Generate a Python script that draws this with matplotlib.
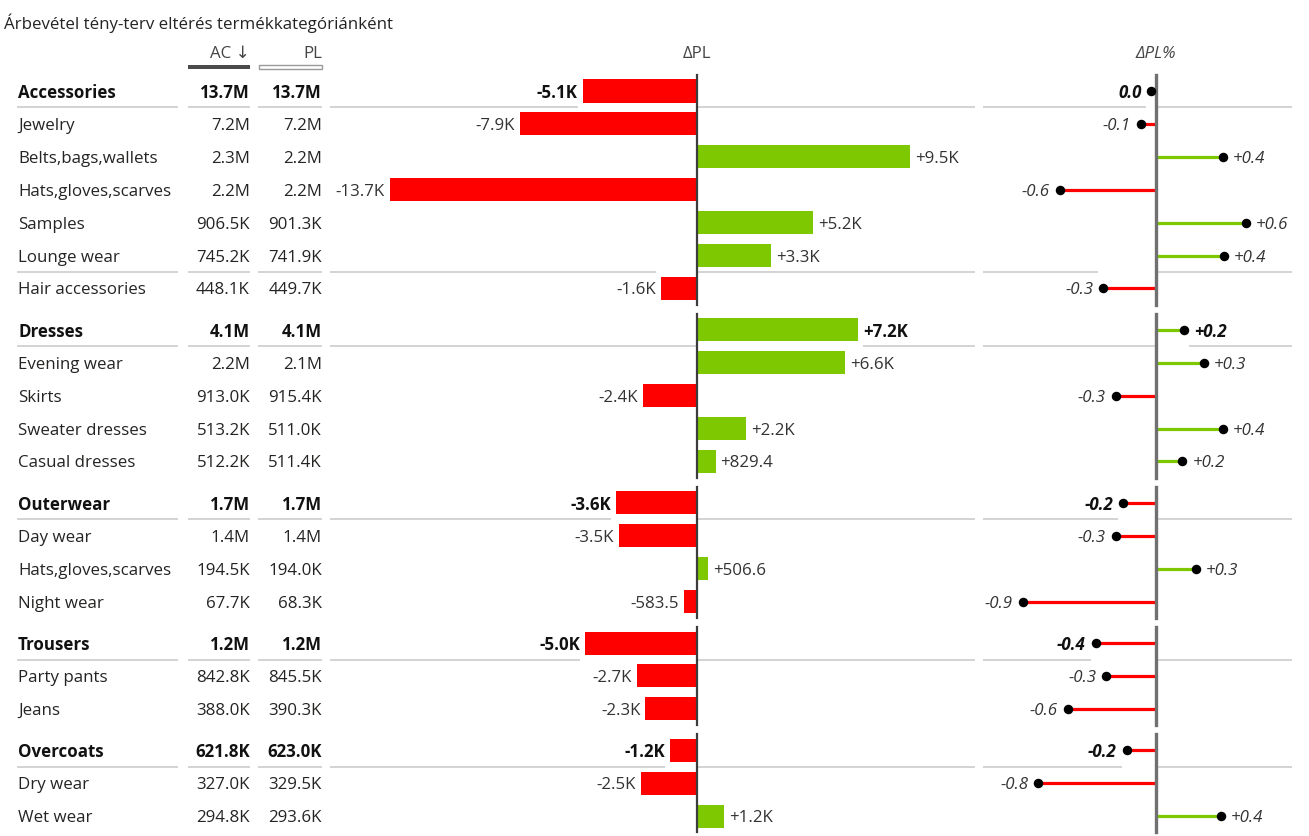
import matplotlib
matplotlib.use("Agg")
import matplotlib.pyplot as plt
from matplotlib.patches import Rectangle
from matplotlib import font_manager

# ---------------- data ----------------
title = "Árbevétel tény-terv eltérés termékkategóriánként"
col_headers = ["AC \u2193", "PL", "\u0394PL", "\u0394PL%"]

categories = ["Accessories", "Jewelry", "Belts,bags,wallets", "Hats,gloves,scarves",
              "Samples", "Lounge wear", "Hair accessories",
              "Dresses", "Evening wear", "Skirts", "Sweater dresses", "Casual dresses",
              "Outerwear", "Day wear", "Hats,gloves,scarves", "Night wear",
              "Trousers", "Party pants", "Jeans",
              "Overcoats", "Dry wear", "Wet wear"]
group_of_row = [0] * 7 + [1] * 5 + [2] * 4 + [3] * 3 + [4] * 3
is_total = [True, False, False, False, False, False, False,
            True, False, False, False, False,
            True, False, False, False,
            True, False, False,
            True, False, False]

ac_values = [13.7e6, 7.2e6, 2.3e6, 2.2e6, 906.5e3, 745.2e3, 448.1e3,
             4.1e6, 2.2e6, 913.0e3, 513.2e3, 512.2e3,
             1.7e6, 1.4e6, 194.5e3, 67.7e3,
             1.2e6, 842.8e3, 388.0e3,
             621.8e3, 327.0e3, 294.8e3]
pl_values = [13.7e6, 7.2e6, 2.2e6, 2.2e6, 901.3e3, 741.9e3, 449.7e3,
             4.1e6, 2.1e6, 915.4e3, 511.0e3, 511.4e3,
             1.7e6, 1.4e6, 194.0e3, 68.3e3,
             1.2e6, 845.5e3, 390.3e3,
             623.0e3, 329.5e3, 293.6e3]
delta_pl = [-5100, -7900, 9500, -13700, 5200, 3300, -1600,
            7200, 6600, -2400, 2200, 829.4,
            -3600, -3500, 506.6, -583.5,
            -5000, -2700, -2300,
            -1200, -2500, 1200]
delta_pl_pct = [-0.03, -0.10, 0.43, -0.62, 0.58, 0.44, -0.34,
                0.18, 0.31, -0.26, 0.43, 0.17,
                -0.21, -0.26, 0.26, -0.86,
                -0.39, -0.32, -0.57,
                -0.19, -0.76, 0.42]

# separators: (row above, row below, row whose mark interrupts the line)
separators = [(0, 1, 0), (5, 6, 6), (7, 8, 7), (12, 13, 12), (16, 17, 16), (19, 20, 19)]

# ---------------- style / layout ----------------
W, H = 1309, 836
ROW0_PX, ROW_PX, GROUP_GAP = 91.0, 32.9, 0.26
RED, GREEN = "#FF0000", "#7DC800"
TXT, SEP = "#252423", "#C8C8C8"
installed = {f.name for f in font_manager.fontManager.ttflist}
MAIN = "Open Sans" if "Open Sans" in installed else "Noto Sans"
FONT = [MAIN, "DejaVu Sans"]
FS = 12.2
plt.rcParams["font.family"] = FONT

DPL_X0, DPL_X1, DPL_ZERO, DPL_SCALE = 330, 975, 697, 0.0224   # px per unit
PCT_X0, PCT_X1, PCT_ZERO, PCT_SCALE = 983, 1292, 1156, 155.0   # px per percent-point

ys = [i + GROUP_GAP * g for i, g in enumerate(group_of_row)]


def fmt_amount(v):
    return f"{v / 1e6:.1f}M" if v >= 1e6 else f"{v / 1e3:.1f}K"


def fmt_delta(v):
    return f"{v / 1e3:+.1f}K" if abs(v) >= 1000 else f"{v:+.1f}"


def fmt_pct(v):
    s = f"{v:+.1f}"
    return "0.0" if s in ("+0.0", "-0.0") else s


fig = plt.figure(figsize=(W / 100, H / 100), dpi=100)
y_top = -ROW0_PX / ROW_PX
y_bot = (H - ROW0_PX) / ROW_PX


def px_axes(x0, x1):
    ax = fig.add_axes([x0 / W, 0, (x1 - x0) / W, 1])
    ax.set_ylim(y_bot, y_top)
    ax.axis("off")
    return ax


base = px_axes(0, W)
base.set_xlim(0, W)


def py(px):
    return (px - ROW0_PX) / ROW_PX


# title and column headers
base.text(4, py(21), title, fontsize=FS, color=TXT, va="center_baseline", ha="left")
base.text(250, py(52), col_headers[0], fontsize=FS, color="#444444", ha="right", va="center_baseline")
base.text(322, py(52), col_headers[1], fontsize=FS, color="#444444", ha="right", va="center_baseline")
base.add_patch(Rectangle((188, py(65)), 62, 4 / ROW_PX, facecolor="#4a4a4a", edgecolor="none"))
base.add_patch(Rectangle((258.5, py(65)), 63, 3.5 / ROW_PX, facecolor="white", edgecolor="#9a9a9a", lw=1))

# table text
for i, name in enumerate(categories):
    w = "bold" if is_total[i] else "normal"
    col = "#111111" if is_total[i] else TXT
    base.text(18, ys[i], name, fontsize=FS, fontweight=w, color=col, ha="left", va="center_baseline")
    base.text(250, ys[i], fmt_amount(ac_values[i]), fontsize=FS, fontweight=w, color=col,
              ha="right", va="center_baseline")
    base.text(322, ys[i], fmt_amount(pl_values[i]), fontsize=FS, fontweight=w, color=col,
              ha="right", va="center_baseline")

for a, b, _ in separators:
    ysep = (ys[a] + ys[b]) / 2
    for x0, x1 in [(17, 178), (188, 250), (258, 322)]:
        base.plot([x0, x1], [ysep, ysep], color=SEP, lw=1.1, solid_capstyle="butt")

# ---------------- ΔPL bars ----------------
ax1 = px_axes(DPL_X0, DPL_X1)
ax1.set_xlim((DPL_X0 - DPL_ZERO) / DPL_SCALE, (DPL_X1 - DPL_ZERO) / DPL_SCALE)
ax1.text(0, py(52), col_headers[2], fontsize=FS, color="#444444", ha="center", va="center_baseline")
colors = [GREEN if v > 0 else RED for v in delta_pl]
ax1.barh(ys, delta_pl, height=0.7, color=colors, zorder=2)
pad1 = 5 / DPL_SCALE
lo1, hi1 = ax1.get_xlim()
for a, b, o in separators:
    ysep = (ys[a] + ys[b]) / 2
    v = delta_pl[o]
    g0, g1 = (v - pad1, 0) if v < 0 else (0, v + pad1)
    ax1.plot([lo1, g0], [ysep, ysep], color=SEP, lw=1.1, solid_capstyle="butt", zorder=1)
    ax1.plot([g1, hi1], [ysep, ysep], color=SEP, lw=1.1, solid_capstyle="butt", zorder=1)
for i, v in enumerate(delta_pl):
    w = "bold" if is_total[i] else "normal"
    col = "#111111" if is_total[i] else "#333333"
    ax1.annotate(fmt_delta(v), xy=(v, ys[i]), xytext=(-5 if v < 0 else 5, 0),
                 textcoords="offset pixels", ha="right" if v < 0 else "left",
                 va="center_baseline", fontsize=FS, fontweight=w, color=col)
for g in sorted(set(group_of_row)):
    rows = [ys[i] for i in range(len(ys)) if group_of_row[i] == g]
    ax1.plot([0, 0], [min(rows) - 0.49, max(rows) + 0.49], color="#3c3c3c", lw=1.6, zorder=3)

# ---------------- ΔPL% lollipops ----------------
ax2 = px_axes(PCT_X0, PCT_X1)
ax2.set_xlim((PCT_X0 - PCT_ZERO) / PCT_SCALE, (PCT_X1 - PCT_ZERO) / PCT_SCALE)
ax2.text(0, py(52), col_headers[3], fontsize=FS, color="#444444", ha="center",
         va="center_baseline", style="italic")
pad2 = 5 / PCT_SCALE
lo2, hi2 = ax2.get_xlim()
for a, b, o in separators:
    ysep = (ys[a] + ys[b]) / 2
    v = delta_pl_pct[o]
    g0, g1 = (v - pad2, 0) if v < 0 else (0, v + pad2)
    ax2.plot([lo2, g0], [ysep, ysep], color=SEP, lw=1.1, solid_capstyle="butt", zorder=1)
    ax2.plot([g1, hi2], [ysep, ysep], color=SEP, lw=1.1, solid_capstyle="butt", zorder=1)
for i, v in enumerate(delta_pl_pct):
    c = GREEN if v > 0 else RED
    ax2.plot([0, v], [ys[i], ys[i]], color=c, lw=2.3, solid_capstyle="butt", zorder=2)
ax2.scatter(delta_pl_pct, ys, s=34, color="black", zorder=4)
for i, v in enumerate(delta_pl_pct):
    w = "bold" if is_total[i] else "normal"
    col = "#111111" if is_total[i] else "#333333"
    ax2.annotate(fmt_pct(v), xy=(v, ys[i]), xytext=(-10 if v < 0 else 10, 0),
                 textcoords="offset pixels", ha="right" if v < 0 else "left",
                 va="center_baseline", fontsize=FS, fontweight=w, color=col, style="italic")
for g in sorted(set(group_of_row)):
    rows = [ys[i] for i in range(len(ys)) if group_of_row[i] == g]
    ax2.plot([0, 0], [min(rows) - 0.49, max(rows) + 0.49], color="#707070", lw=2.4, zorder=3)

fig.savefig("out.png", dpi=100)
